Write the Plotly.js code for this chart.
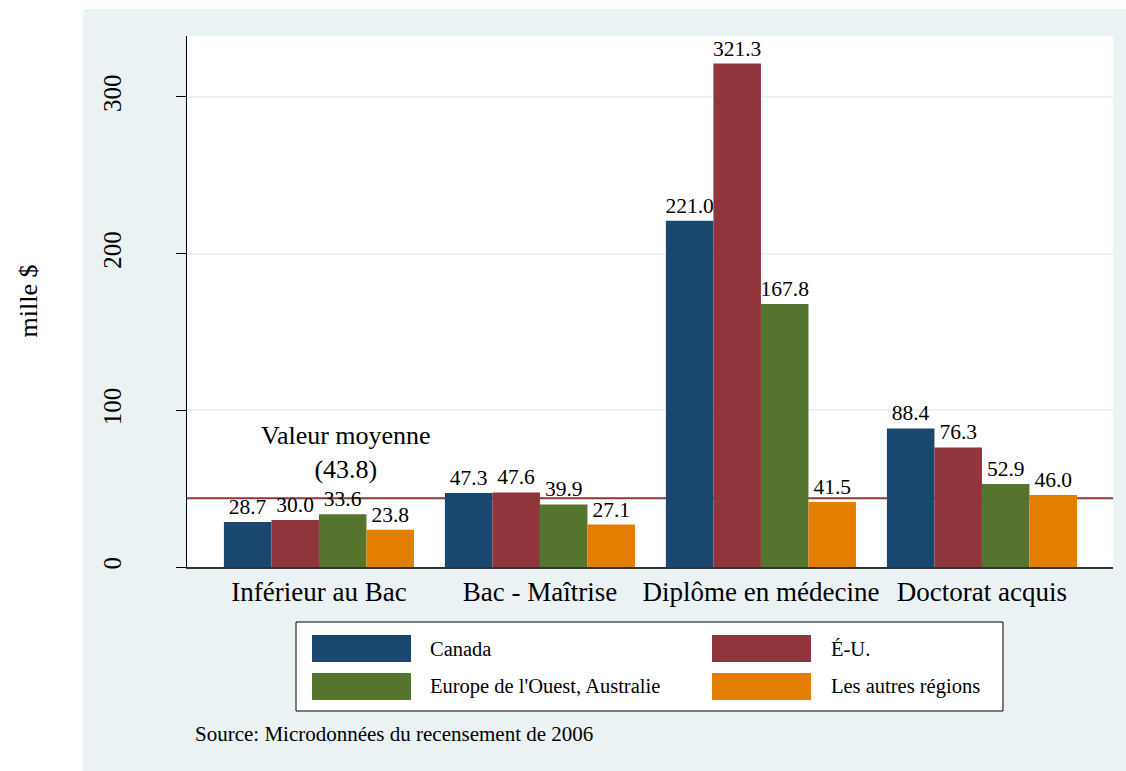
<!DOCTYPE html>
<html>
<head>
<meta charset="utf-8">
<script src="https://cdn.plot.ly/plotly-3.0.1.min.js"></script>
<style>html,body{margin:0;padding:0;background:#fff;}#chart{width:1126px;height:771px;}</style>
</head>
<body>
<div id="chart"></div>
<script>
// ---- data ----
const categories = ["Inférieur au Bac", "Bac - Maîtrise", "Diplôme en médecine", "Doctorat acquis"];
const seriesNames = ["Canada", "É-U.", "Europe de l'Ouest, Australie", "Les autres régions"];
const canada = [28.7, 47.3, 221.0, 88.4];
const eu = [30.0, 47.6, 321.3, 76.3];
const europe = [33.6, 39.9, 167.8, 52.9];
const autres = [23.8, 27.1, 41.5, 46.0];
const meanValue = 43.8;
const meanLabel = "Valeur moyenne";
const yTitle = "mille $";
const sourceNote = "Source: Microdonnées du recensement de 2006";
const yTicks = [0, 100, 200, 300];

// ---- styles ----
const colors = ["#1a476f", "#90353b", "#55752f", "#e37e00"];
const FONT = "Liberation Serif, Times New Roman, serif";
const BG = "#eaf2f3";
const seriesValues = [canada, eu, europe, autres];

const traces = seriesValues.map((vals, i) => ({
  type: "bar",
  name: seriesNames[i],
  x: categories,
  y: vals,
  text: vals.map(v => v.toFixed(1)),
  textposition: "outside",
  textfont: {family: FONT, size: 21.5, color: "#000"},
  constraintext: "none",
  cliponaxis: false,
  marker: {color: colors[i], line: {width: 0}},
  hoverinfo: "skip"
}));

// paper coordinate helpers (plot area: x 187..1113, y 36..567)
const L = 187, R = 1113, T = 36, B = 567;
const px = v => (v - L) / (R - L);
const py = v => (B - v) / (B - T);
const pxPerUnit = (B - 97) / 300;

const shapes = [
  {type: "rect", xref: "paper", yref: "paper", x0: px(0), x1: px(83), y0: py(771), y1: py(0), fillcolor: "#fff", line: {width: 0}, layer: "below"},
  {type: "rect", xref: "paper", yref: "paper", x0: px(0), x1: px(1126), y0: py(9), y1: py(0), fillcolor: "#fff", line: {width: 0}, layer: "below"},
  {type: "line", xref: "paper", yref: "y", x0: 0, x1: 1, y0: meanValue, y1: meanValue, line: {color: "#90353b", width: 2}, layer: "below"},
  {type: "rect", xref: "paper", yref: "paper", x0: px(296), x1: px(1003), y0: py(711), y1: py(622), fillcolor: "#fff", line: {color: "#000", width: 1}}
];

const labelX = 0.122; // slightly right of first category centre
const annotations = [
  {xref: "x", yref: "y", x: labelX, y: (B - 453) / pxPerUnit, text: meanLabel + "<br>(" + meanValue.toFixed(1) + ")", showarrow: false, yanchor: "middle", align: "center", font: {family: FONT, size: 26, color: "#000"}},
  {xref: "paper", yref: "paper", x: px(28), y: 0.5, text: yTitle, textangle: -90, showarrow: false, xanchor: "center", yanchor: "middle", font: {family: FONT, size: 26, color: "#000"}},
  {xref: "paper", yref: "paper", x: px(193), y: py(734), text: sourceNote, showarrow: false, xanchor: "left", yanchor: "middle", font: {family: FONT, size: 21, color: "#000"}}
];

const swX = [[312, 411], [712, 811]];
const rowY = [[635, 662], [673, 700]];
const txtX = [428, 829];
seriesNames.forEach((name, i) => {
  const col = i % 2, row = Math.floor(i / 2);
  shapes.push({type: "rect", xref: "paper", yref: "paper", x0: px(swX[col][0]), x1: px(swX[col][1]), y0: py(rowY[row][1]), y1: py(rowY[row][0]), fillcolor: colors[i], line: {width: 0}});
  annotations.push({xref: "paper", yref: "paper", x: px(txtX[col]), y: py((rowY[row][0] + rowY[row][1]) / 2), text: name, showarrow: false, xanchor: "left", yanchor: "middle", font: {family: FONT, size: 20.5, color: "#000"}});
});

const layout = {
  width: 1126, height: 771,
  margin: {l: L, r: 1126 - R, t: T, b: 771 - B, pad: 0},
  paper_bgcolor: BG,
  plot_bgcolor: "#fff",
  showlegend: false,
  barmode: "group",
  bargap: 0.14,
  bargroupgap: 0,
  font: {family: FONT, color: "#000"},
  xaxis: {
    type: "category",
    range: [-0.597, 3.593],
    showline: true, linecolor: "#333", linewidth: 1.5,
    ticks: "", showgrid: false, zeroline: false,
    tickfont: {family: FONT, size: 27, color: "#000"}
  },
  yaxis: {
    range: [0, 338.9],
    tickvals: yTicks,
    ticktext: yTicks.map(String),
    tickangle: -90,
    ticks: "outside", ticklen: 10, tickwidth: 1, tickcolor: "#000",
    ticklabelstandoff: 45,
    showline: true, linecolor: "#000", linewidth: 1,
    showgrid: true, gridcolor: BG, gridwidth: 2,
    zeroline: false,
    tickfont: {family: FONT, size: 25, color: "#000"}
  },
  shapes: shapes,
  annotations: annotations
};

Plotly.newPlot("chart", traces, layout, {displayModeBar: false, staticPlot: true});
</script>
</body>
</html>
